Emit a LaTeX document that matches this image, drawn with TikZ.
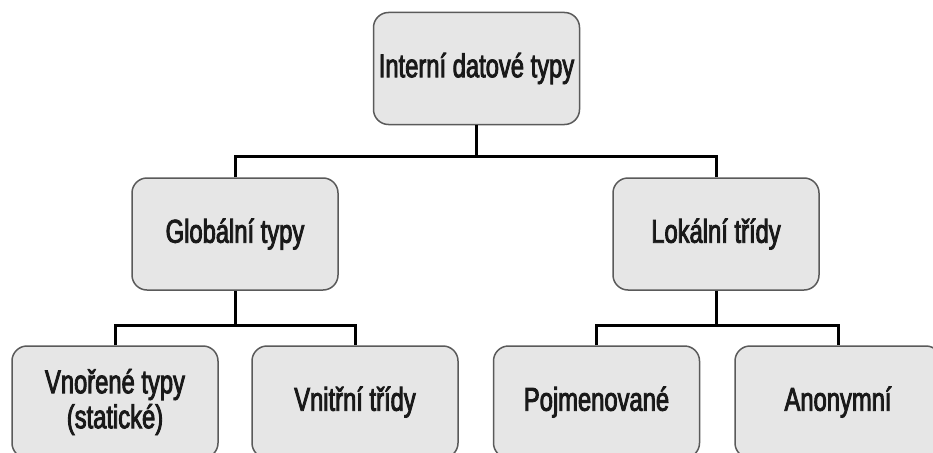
\documentclass[tikz,border=0pt]{standalone}
\usepackage{fontspec}
\newfontfamily\nf[FakeStretch=0.72,FakeBold=2.6]{Liberation Sans}
\definecolor{boxfill}{HTML}{E6E6E6}
\definecolor{boxline}{HTML}{5A5A5A}
\tikzset{
  tbox/.style={draw=boxline, line width=1.5pt, fill=boxfill, rounded corners=15pt,
    minimum width=206pt, minimum height=112pt, inner sep=0pt, align=center,
    font=\nf\fontsize{33}{35}\selectfont, text=black!90},
  conn/.style={draw=black, line width=3pt}
}
\begin{document}
\begin{tikzpicture}[x=1pt,y=-1pt]
\useasboundingbox (0,0) rectangle (933,452);
\fill[white] (0,0) rectangle (933,452);
\clip (0,0) rectangle (933,452);
\node[tbox] (top) at (476.5,68.5) {Interní datové typy};
\node[tbox] (glob) at (235,234) {Globální typy};
\node[tbox] (lok) at (716,234) {Lokální třídy};
\node[tbox] (vno) at (115,402) {Vnořené typy\\(statické)};
\node[tbox] (vni) at (355,402) {Vnitřní třídy};
\node[tbox] (poj) at (596.5,402) {Pojmenované};
\node[tbox] (ano) at (838,402) {Anonymní};
\coordinate (j1) at (476.5,156);
\coordinate (j2) at (235,325);
\coordinate (j3) at (716,325);
\draw[conn] (top.south) -- (j1);
\draw[conn] (glob.north) |- (j1) -| (lok.north);
\draw[conn] (glob.south) -- (j2);
\draw[conn] (vno.north) |- (j2) -| (vni.north);
\draw[conn] (lok.south) -- (j3);
\draw[conn] (poj.north) |- (j3) -| (ano.north);
\end{tikzpicture}
\end{document}
